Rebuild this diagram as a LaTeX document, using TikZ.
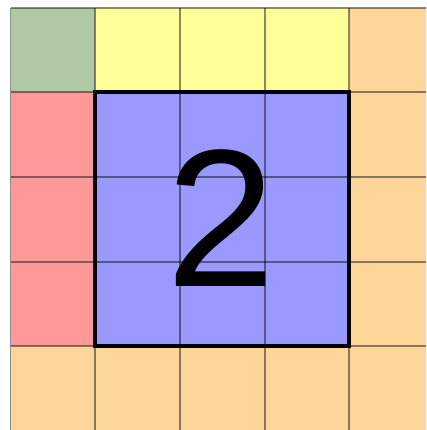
\documentclass[tikz,border=0pt]{standalone}
\usepackage{fontspec}
\setmainfont{Liberation Sans}
\definecolor{cgreen}{RGB}{176,201,164}
\definecolor{cyellow}{RGB}{255,255,153}
\definecolor{cpeach}{RGB}{255,214,153}
\definecolor{cred}{RGB}{255,153,153}
\definecolor{cblue}{RGB}{153,153,255}
\begin{document}
\begin{tikzpicture}[x=1pt,y=-1pt,
  gridline/.style={draw=black,draw opacity=0.45,line width=1.1pt},
  bigbox/.style={draw=black,line width=3.6pt}]
\useasboundingbox (0,0) rectangle (426,430);
\fill[white] (0,0) rectangle (426,430);
\begin{scope}
\clip (0,0) rectangle (426,430);
\def\xa{10.5}\def\xb{95}\def\xc{180}\def\xd{265}\def\xe{349}\def\xf{434}
\def\ya{8}\def\yb{92}\def\yc{177}\def\yd{262}\def\ye{346}\def\yf{431}
% fills
\fill[cgreen] (\xa,\ya) rectangle (\xb,\yb);
\fill[cyellow] (\xb,\ya) rectangle (\xe,\yb);
\fill[cpeach] (\xe,\ya) rectangle (\xf,\yf);
\fill[cpeach] (\xa,\ye) rectangle (\xe,\yf);
\fill[cred] (\xa,\yb) rectangle (\xb,\ye);
\fill[cblue] (\xb,\yb) rectangle (\xe,\ye);
% grid lines
\foreach \x in {\xa,\xb,\xc,\xd,\xe,\xf} \draw[gridline] (\x,\ya) -- (\x,\yf);
\foreach \y in {\ya,\yb,\yc,\yd,\ye,\yf} \draw[gridline] (\xa,\y) -- (\xf,\y);
\draw[bigbox] (\xb,\yb) rectangle (\xe,\ye);
\node[inner sep=0pt,font=\fontsize{196}{196}\selectfont] (two) at (221,218) {2};
\end{scope}
\end{tikzpicture}
\end{document}
